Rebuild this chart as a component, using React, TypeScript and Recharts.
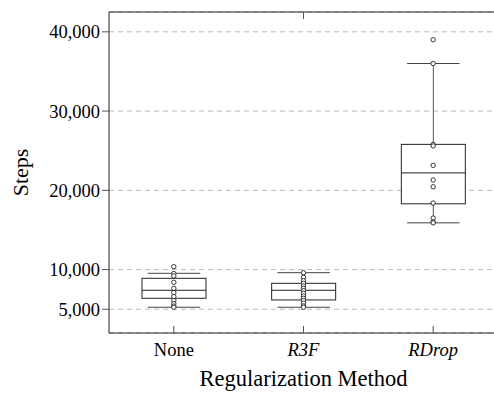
import React from 'react';
import { ComposedChart, Bar, Scatter, XAxis, YAxis, CartesianGrid, Label } from 'recharts';

const categories = ['None', 'R3F', 'RDrop'];
const italicCats = [false, true, true];
const whiskerLow = [5250, 5250, 15900];
const q1 = [6380, 6170, 18300];
const median = [7390, 7390, 22200];
const q3 = [8900, 8270, 25800];
const whiskerHigh = [9530, 9610, 36000];

const pointsNone = [10370, 9500, 9200, 8400, 7640, 7100, 6600, 6100, 5700, 5400, 5250];
const pointsR3F = [9610, 9030, 8600, 8270, 7930, 7640, 7340, 7010, 6670, 6380, 6090, 5760, 5420, 5250];
const pointsRDrop = [39000, 36000, 25800, 25600, 23150, 21300, 20450, 18400, 16500, 16000, 15900];

const yTicks = [5000, 10000, 20000, 30000, 40000];
const yDomain = [2000, 42500];
const xTicks = [1, 2, 3];

const boxData = categories.map((name, i) => ({
  name,
  pos: i + 1,
  whiskerLow: whiskerLow[i],
  q1: q1[i],
  median: median[i],
  q3: q3[i],
  whiskerHigh: whiskerHigh[i],
}));

const pointData = [pointsNone, pointsR3F, pointsRDrop].flatMap((arr, i) =>
  arr.map((value) => ({ pos: i + 1, value }))
);

const FONT = '"Liberation Serif", "Times New Roman", serif';
const INK = '#222';

const BoxShape = (props: any) => {
  const { x, y, width, height, payload } = props;
  if (x == null || y == null) return null;
  const top = Math.min(y, y + height);
  const bottom = Math.max(y, y + height);
  const lo = payload.whiskerLow;
  const hi = payload.whiskerHigh;
  const toY = (v: number) => bottom - ((v - lo) / (hi - lo)) * (bottom - top);
  const cx = x + width / 2;
  const capHalf = width * 0.41;
  const yq1 = toY(payload.q1);
  const yq3 = toY(payload.q3);
  const ymed = toY(payload.median);
  return (
    <g>
      <line x1={cx} x2={cx} y1={top} y2={yq3} stroke="#555" strokeWidth={1} />
      <line x1={cx} x2={cx} y1={yq1} y2={bottom} stroke="#555" strokeWidth={1} />
      <line x1={cx - capHalf} x2={cx + capHalf} y1={top} y2={top} stroke="#444" strokeWidth={1} />
      <line x1={cx - capHalf} x2={cx + capHalf} y1={bottom} y2={bottom} stroke="#444" strokeWidth={1} />
      <rect x={x} y={yq3} width={width} height={yq1 - yq3} fill="#fff" stroke={INK} strokeWidth={1} />
      <line x1={x} x2={x + width} y1={ymed} y2={ymed} stroke={INK} strokeWidth={1} />
    </g>
  );
};

const PointShape = (props: any) => {
  const { cx, cy } = props;
  if (cx == null || cy == null) return null;
  return <circle cx={cx} cy={cy} r={2.2} fill="#fff" stroke={INK} strokeWidth={0.9} />;
};

const BottomTick = (props: any) => {
  const { x, y, payload } = props;
  const idx = xTicks.indexOf(payload.value);
  const label = categories[idx] ?? '';
  return (
    <g>
      <line x1={x} x2={x} y1={y} y2={y - 7} stroke="#555" strokeWidth={1} />
      <text
        x={x}
        y={y + 17}
        textAnchor="middle"
        dominantBaseline="central"
        fontFamily={FONT}
        fontSize={18.5}
        fontStyle={italicCats[idx] ? 'italic' : 'normal'}
        fill="#000"
      >
        {label}
      </text>
    </g>
  );
};

const TopTick = (props: any) => {
  const { x, y } = props;
  return <line x1={x} x2={x} y1={y} y2={y + 7} stroke="#555" strokeWidth={1} />;
};

export default function App() {
  return (
    <div style={{ position: 'absolute', left: 0, top: 0, width: 494, height: 394, overflow: 'hidden', background: '#fff' }}>
      <ComposedChart
        width={500}
        height={394}
        data={boxData}
        margin={{ top: 0, right: 2, bottom: 0, left: 0 }}
      >
        <CartesianGrid vertical={false} stroke="#bbb" strokeDasharray="5 4" />
        <XAxis
          dataKey="pos"
          type="number"
          domain={[0.5, 3.5]}
          ticks={xTicks}
          height={61}
          tickSize={0}
          tickMargin={0}
          tick={<BottomTick />}
          axisLine={{ stroke: INK }}
          tickLine={false}
          allowDataOverflow
        >
          <Label
            content={(p: any) => {
              const vb = p.viewBox || {};
              return (
                <text
                  x={vb.x + vb.width / 2}
                  y={vb.y + 45}
                  textAnchor="middle"
                  dominantBaseline="central"
                  fontFamily={FONT}
                  fontSize={22.5}
                  fill="#000"
                >
                  Regularization Method
                </text>
              );
            }}
          />
        </XAxis>
        <XAxis
          xAxisId="top"
          orientation="top"
          type="number"
          domain={[0.5, 3.5]}
          ticks={xTicks}
          height={12}
          tickSize={0}
          tickMargin={0}
          tick={<TopTick />}
          tickLine={false}
          axisLine={{ stroke: INK }}
          allowDataOverflow
        />
        <YAxis
          type="number"
          domain={yDomain}
          ticks={yTicks}
          width={109}
          tickSize={7}
          tickMargin={2}
          allowDataOverflow
          tickFormatter={(v: number) => v.toLocaleString('en-US')}
          tick={{ fontFamily: FONT, fontSize: 18.5, fill: '#000' }}
          tickLine={{ stroke: '#555' }}
          axisLine={{ stroke: INK }}
        >
          <Label
            content={(p: any) => {
              const vb = p.viewBox || {};
              const cx = 20;
              const cy = vb.y + vb.height / 2;
              return (
                <text
                  x={cx}
                  y={cy}
                  transform={`rotate(-90 ${cx} ${cy})`}
                  textAnchor="middle"
                  dominantBaseline="central"
                  fontFamily={FONT}
                  fontSize={22}
                  fill="#000"
                >
                  Steps
                </text>
              );
            }}
          />
        </YAxis>
        <Bar
          dataKey={(d: any) => [d.whiskerLow, d.whiskerHigh]}
          barSize={64}
          shape={<BoxShape />}
          isAnimationActive={false}
        />
        <Scatter
          data={pointData}
          dataKey="value"
          shape={<PointShape />}
          isAnimationActive={false}
        />
      </ComposedChart>
    </div>
  );
}
